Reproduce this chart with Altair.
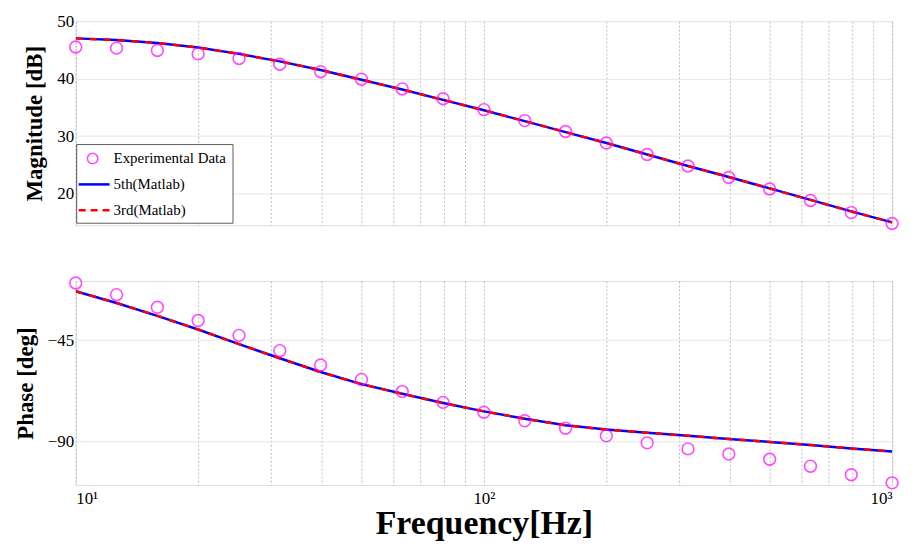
import altair as alt
import pandas as pd

freq = [10, 12.59, 15.85, 19.95, 25.12, 31.62, 39.81, 50.12, 63.1, 79.43, 100,
        125.9, 158.5, 199.5, 251.2, 316.2, 398.1, 501.2, 631, 794.3, 1000]
mag_exp = [45.5, 45.3, 44.9, 44.3, 43.5, 42.5, 41.2, 39.9, 38.2, 36.5, 34.6,
           32.7, 30.8, 28.8, 26.8, 24.8, 22.8, 20.8, 18.8, 16.7, 14.8]
mag_fit = [47.0, 46.7, 46.2, 45.4, 44.3, 43.0, 41.5, 39.8, 38.1, 36.3, 34.5,
           32.6, 30.7, 28.8, 26.8, 24.8, 22.9, 20.9, 18.9, 16.9, 15.0]
ph_exp = [-19.6, -24.8, -30.4, -36.3, -42.9, -49.7, -56.1, -62.5, -67.9, -72.7, -77.1,
          -80.9, -84.2, -87.6, -90.7, -93.4, -95.7, -98.0, -101.1, -104.9, -108.5]
ph_fit = [-23.3, -28.5, -34.2, -40.3, -46.8, -53.1, -59.2, -64.6, -68.9, -73.0, -76.7,
          -80.0, -82.9, -84.8, -86.2, -87.6, -89.0, -90.3, -91.7, -93.2, -94.6]

grid_vals = [m * d for d in (10, 100) for m in range(1, 10)] + [1000]

df = pd.DataFrame({"f": freq, "mag_exp": mag_exp, "mag_fit": mag_fit,
                   "ph_exp": ph_exp, "ph_fit": ph_fit})

FONT = "Liberation Serif"
W = 820


def x_axis(show_labels):
    return alt.X(
        "f:Q",
        scale=alt.Scale(type="log", domain=[10, 1000], nice=False),
        axis=alt.Axis(
            values=grid_vals, labels=show_labels, title="Frequency[Hz]" if show_labels else None,
            labelExpr="datum.value == 10 ? '10¹' : datum.value == 100 ? '10²' : datum.value == 1000 ? '10³' : ''",
            gridDash=[2, 2], gridColor="#bbbbbb", tickSize=0, domain=False,
            labelFont=FONT, labelFontSize=17, labelColor="black", labelPadding=6,
            titleFont=FONT, titleFontSize=34, titleFontWeight="bold", titleColor="black",
            titlePadding=0,
        ),
    )


def panel(exp_col, fit_col, domain, ticks, title, show_x, height, legend=False):
    yax = alt.Y(
        f"{exp_col}:Q",
        scale=alt.Scale(domain=domain, nice=False, zero=False),
        axis=alt.Axis(values=ticks, title=title, gridColor="#e6e6e6", tickSize=0, domain=False,
                      labelFont=FONT, labelFontSize=17, labelColor="black",
                      titleFont=FONT, titleFontSize=23, titleFontWeight="bold",
                      titleColor="black", titlePadding=10),
    )
    base = alt.Chart(df)
    fit5 = base.mark_line(color="blue", strokeWidth=2.5, clip=True).encode(
        x=x_axis(show_x), y=alt.Y(f"{fit_col}:Q", scale=alt.Scale(domain=domain, nice=False, zero=False)))
    fit3 = base.mark_line(color="red", strokeWidth=2.5, strokeDash=[7, 7], clip=True).encode(
        x="f:Q", y=f"{fit_col}:Q")
    pts = base.mark_point(shape="circle", size=140, color="magenta", strokeWidth=1.6,
                          filled=False, clip=False).encode(x="f:Q", y=yax)
    layers = [fit5, fit3, pts]
    if legend:
        box = alt.Chart(df.head(1)).mark_rect(fill="white", stroke="#333", strokeWidth=0.8).encode(
            x=alt.value(1), x2=alt.value(158), y=alt.value(124), y2=alt.value(203))
        lg = pd.DataFrame({"lab": ["Experimental Data", "5th(Matlab)", "3rd(Matlab)"],
                           "yy": [138, 164, 190]})
        lgb = alt.Chart(lg)
        sym = lgb.transform_filter("datum.lab == 'Experimental Data'").mark_point(
            shape="circle", size=110, color="magenta", strokeWidth=1.6).encode(
            x=alt.value(17), y=alt.Y("yy:Q", scale=None))
        l5 = alt.Chart(df.head(1)).mark_rule(color="blue", strokeWidth=2.5).encode(
            x=alt.value(3), x2=alt.value(34), y=alt.value(164))
        l3 = alt.Chart(df.head(1)).mark_rule(color="red", strokeWidth=2.5, strokeDash=[7, 5]).encode(
            x=alt.value(3), x2=alt.value(34), y=alt.value(190))
        txt = lgb.mark_text(align="left", font=FONT, fontSize=15, color="black").encode(
            x=alt.value(38), y=alt.Y("yy:Q", scale=None), text="lab:N")
        layers += [box, sym, l5, l3, txt]
    return alt.layer(*layers).properties(width=W, height=height)


top = panel("mag_exp", "mag_fit", [14.5, 50], [20, 30, 40, 50], "Magnitude [dB]", False, 205, legend=True)
bot = panel("ph_exp", "ph_fit", [-109.5, -18.7], [-45, -90], "Phase [deg]", True, 205)

chart = alt.vconcat(top, bot, spacing=40).properties(
    padding={"top": 2, "left": 5, "right": 14, "bottom": 0}
).configure_view(stroke="#999999", strokeWidth=1).configure(background="white").configure_concat(spacing=40)

chart.save("out.html", embed_options={"renderer": "svg", "actions": False})
